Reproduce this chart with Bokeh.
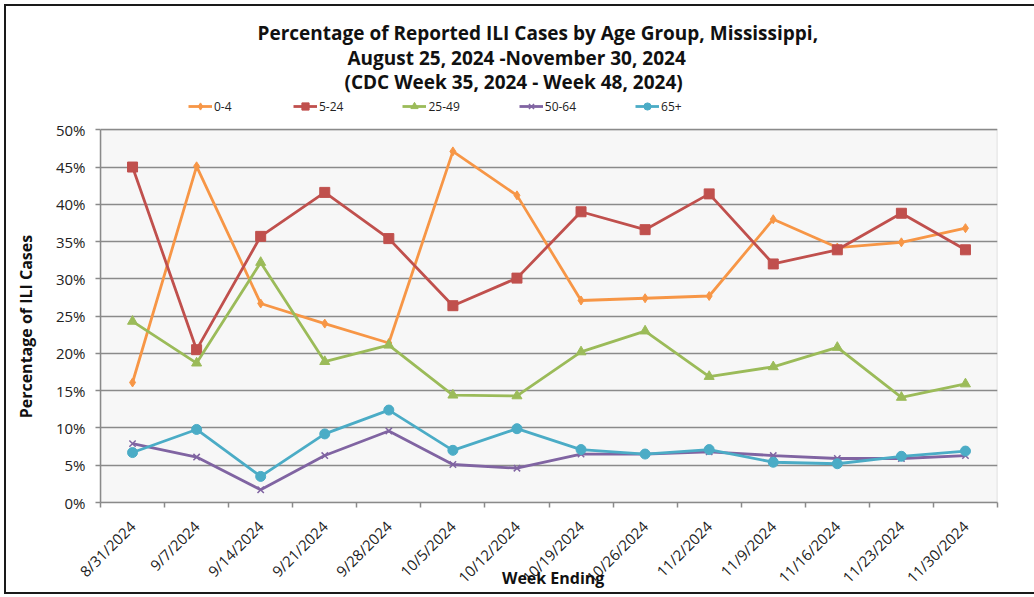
import math
from bokeh.plotting import figure
from bokeh.models import (Range1d, FixedTicker, Legend, LegendItem, Title, BoxAnnotation)
from bokeh.embed import file_html
from bokeh.resources import INLINE

weeks = ["8/31/2024", "9/7/2024", "9/14/2024", "9/21/2024", "9/28/2024",
         "10/5/2024", "10/12/2024", "10/19/2024", "10/26/2024", "11/2/2024",
         "11/9/2024", "11/16/2024", "11/23/2024", "11/30/2024"]

age_0_4 = [16.1, 45.1, 26.7, 24.0, 21.4, 47.1, 41.2, 27.1, 27.4, 27.7, 38.0, 34.2, 34.9, 36.8]
age_5_24 = [45.0, 20.5, 35.7, 41.6, 35.4, 26.4, 30.1, 39.0, 36.6, 41.4, 32.0, 33.9, 38.8, 33.9]
age_25_49 = [24.3, 18.7, 32.2, 18.9, 21.1, 14.4, 14.3, 20.2, 23.0, 16.9, 18.2, 20.8, 14.1, 15.9]
age_50_64 = [7.9, 6.1, 1.7, 6.3, 9.6, 5.1, 4.6, 6.5, 6.5, 6.8, 6.3, 5.9, 5.9, 6.3]
age_65p = [6.7, 9.8, 3.5, 9.2, 12.4, 7.0, 9.9, 7.1, 6.5, 7.1, 5.4, 5.2, 6.2, 6.9]

series_names = ["0-4", "5-24", "25-49", "50-64", "65+"]
series_values = [age_0_4, age_5_24, age_25_49, age_50_64, age_65p]
colors = ["#F79646", "#C0504D", "#9BBB59", "#8064A2", "#4BACC6"]
markers = ["diamond", "square", "triangle", "x", "circle"]
msizes = [9, 10, 10, 9, 10]

y_ticks = list(range(0, 51, 5))
Y_MAX = 50

FONT = "Open Sans"
GRID = "#8a8a8a"
NB = "\u00a0"

p = figure(width=1028, height=586, output_backend="svg", toolbar_location=None,
           x_range=Range1d(0, len(weeks)), y_range=Range1d(0, 55),
           min_border_left=94, min_border_right=37, min_border_top=86,
           min_border_bottom=90, margin=(6, 0, 0, 6))
p.background_fill_color = "white"
p.border_fill_color = "white"
p.outline_line_color = None
p.styles = {"outline": "2px solid #1a1a1a"}

# plot area (0 .. 50%)
p.add_layout(BoxAnnotation(bottom=0, top=Y_MAX, fill_color="#f7f7f7", fill_alpha=1,
                           line_color=GRID, line_width=1.5, level="image"))

xs = [i + 0.5 for i in range(len(weeks))]
items = []
for name, vals, c, m, s in zip(series_names, series_values, colors, markers, msizes):
    r1 = p.line(xs, vals, line_color=c, line_width=2.8)
    if m == "x":
        r2 = p.scatter(xs, vals, marker=m, size=s, line_color=c, line_width=1.5)
    else:
        r2 = p.scatter(xs, vals, marker=m, size=s, fill_color=c, line_color=c)
    items.append(LegendItem(label=name, renderers=[r1, r2]))

# axes
p.xaxis.ticker = FixedTicker(ticks=xs, minor_ticks=list(range(len(weeks) + 1)))
p.xaxis.major_label_overrides = {x: w for x, w in zip(xs, weeks)}
p.xaxis.major_label_orientation = math.pi / 4
p.xaxis.major_tick_line_color = None
p.xaxis.minor_tick_line_color = GRID
p.xaxis.minor_tick_out = 5
p.xaxis.minor_tick_in = 0
p.xaxis.minor_tick_line_width = 1.5
p.xaxis.axis_line_color = GRID
p.xaxis.axis_line_width = 1.5
p.xaxis.major_label_text_font = FONT
p.xaxis.major_label_text_font_size = "15px"
p.xaxis.major_label_text_color = "#222222"
p.xaxis.major_label_standoff = 15
p.xaxis.axis_label = NB * 2 + "Week Ending"
p.xaxis.axis_label_text_font = FONT
p.xaxis.axis_label_text_font_size = "16px"
p.xaxis.axis_label_text_font_style = "bold"
p.xaxis.axis_label_text_color = "#111111"
p.xaxis.axis_label_standoff = -30

p.yaxis.ticker = FixedTicker(ticks=y_ticks)
p.yaxis.bounds = (0, Y_MAX)
p.yaxis.major_label_overrides = {v: f"{v}%" for v in y_ticks}
p.yaxis.minor_tick_line_color = None
p.yaxis.major_tick_line_color = GRID
p.yaxis.major_tick_line_width = 1.5
p.yaxis.major_tick_out = 5
p.yaxis.major_tick_in = 0
p.yaxis.axis_line_color = GRID
p.yaxis.axis_line_width = 1.5
p.yaxis.major_label_text_font = FONT
p.yaxis.major_label_text_font_size = "15px"
p.yaxis.major_label_text_color = "#222222"
p.yaxis.major_label_standoff = 10
p.yaxis.axis_label = "Percentage of ILI Cases" + NB * 14
p.yaxis.axis_label_text_font = FONT
p.yaxis.axis_label_text_font_size = "16px"
p.yaxis.axis_label_text_font_style = "bold"
p.yaxis.axis_label_text_color = "#111111"
p.yaxis.axis_label_standoff = 16

p.xgrid.grid_line_color = None
p.ygrid.ticker = FixedTicker(ticks=y_ticks)
p.ygrid.grid_line_color = GRID
p.ygrid.grid_line_width = 1.5

legend = Legend(items=items, orientation="horizontal", location=(88, 387),
                glyph_width=24, glyph_height=18, label_standoff=2, spacing=59,
                padding=0, margin=0, border_line_color=None,
                background_fill_alpha=0,
                label_text_font=FONT, label_text_font_size="12px",
                label_text_color="#222222")
p.add_layout(legend, "center")

titles = ["(CDC Week 35, 2024 - Week 48, 2024)",
          "August 25, 2024 -November 30, 2024",
          "Percentage of Reported ILI Cases by Age Group, Mississippi,"]
offsets = [244, 247, 157]
standoffs = [-5, -3, -3]
for t, off, so in zip(titles, offsets, standoffs):
    p.add_layout(Title(text=t, align="left", offset=off, text_font=FONT,
                       text_font_size="19px", text_font_style="bold",
                       text_color="#111111", standoff=so), "above")

open("out.html", "w").write(file_html(p, INLINE))
